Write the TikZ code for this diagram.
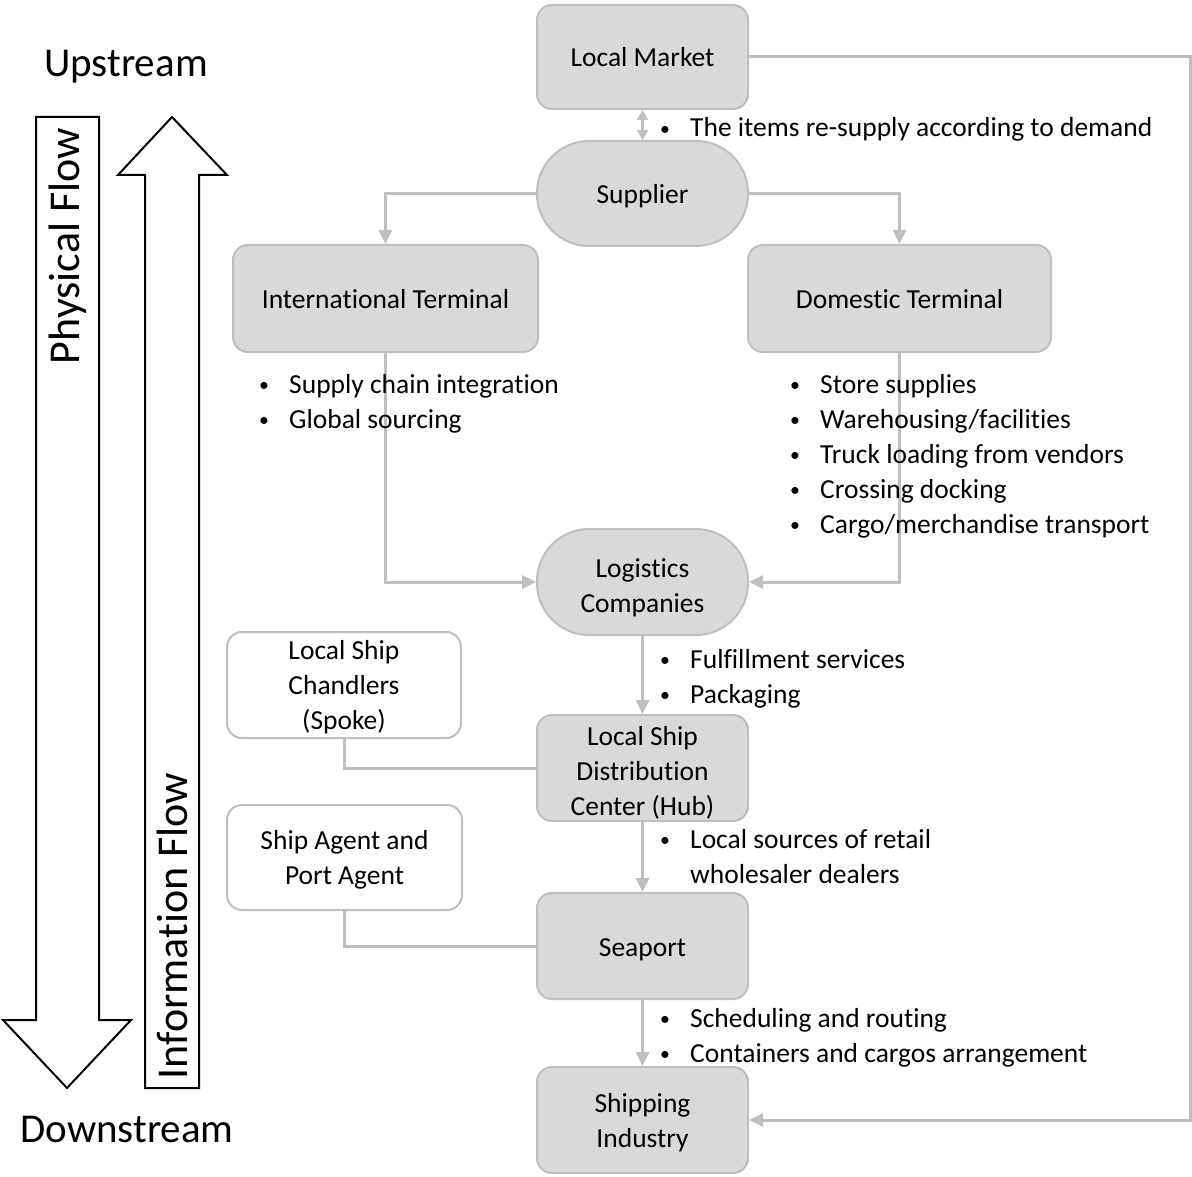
\documentclass[tikz,border=0pt]{standalone}
\usepackage{fontspec}
\setmainfont[Ligatures=NoCommon]{Carlito}
\usetikzlibrary{arrows.meta}
\definecolor{boxfill}{HTML}{D9D9D9}
\definecolor{boxline}{HTML}{BFBFBF}
\definecolor{connline}{HTML}{BFBFBF}
\newcommand{\bulitem}[1]{\makebox[31pt][l]{\hspace{1pt}\raisebox{1.6pt}{\scalebox{0.72}{\textbullet}}}#1}
% struts that fix the height of the first line and the depth of the last line
\newcommand{\Tst}[1][27.5pt]{\rule{0pt}{#1}}
\newcommand{\Bst}[1][7.5pt]{\rule[-#1]{0pt}{#1}}
\begin{document}
\begin{tikzpicture}[x=1pt,y=-1pt,
  txt/.style={font=\fontsize{27.5}{35}\selectfont},
  graybox/.style={txt, draw=boxline, line width=2pt, fill=boxfill, rounded corners=15pt,
    inner sep=0pt, align=center},
  stadium/.style={graybox, rounded corners=52pt},
  whitebox/.style={txt, draw=boxline, line width=2pt, fill=white, rounded corners=15pt,
    inner sep=0pt, align=center},
  conn/.style={draw=connline, line width=3pt, -{Triangle[width=13pt,length=14pt]}},
  link/.style={draw=connline, line width=3pt},
  bul/.style={txt, anchor=base west, inner sep=0pt},
  big/.style={font=\fontsize{41}{48}\selectfont, inner sep=0pt},
  bigrot/.style={font=\fontsize{44}{50}\selectfont, inner sep=0pt, rotate=90},
  blockarrow/.style={draw=black, line width=2pt, fill=white, line join=miter}
]
\useasboundingbox (0,0) rectangle (1192,1177);

% ---- upstream / downstream flow arrows ----
\draw[blockarrow] (36,117) -- (99,117) -- (99,1020) -- (131,1020) -- (67,1088)
  -- (3,1020) -- (36,1020) -- cycle;
\draw[blockarrow] (145,1088) -- (199,1088) -- (199,175) -- (227,175) -- (172,117)
  -- (118,175) -- (145,175) -- cycle;
\node[bigrot] (pflow) at (68,246) {Physical Flow};
\node[bigrot] (iflow) at (172,926) {Information Flow};
\node[big] (up) at (126,67) {Upstream};
\node[big] (down) at (127,1129) {Downstream};

% ---- chain nodes ----
\node[graybox, minimum width=211pt, minimum height=104pt] (lm) at (642.5,57) {\Tst Local Market\Bst};
\node[stadium, minimum width=211pt, minimum height=105pt] (sup) at (642.5,193.5) {\Tst Supplier\Bst};
\node[graybox, minimum width=305pt, minimum height=107pt] (intl) at (385.5,298.5) {\Tst International Terminal\Bst};
\node[graybox, minimum width=303pt, minimum height=107pt] (dom) at (899.5,298.5) {\Tst Domestic Terminal\Bst};
\node[stadium, minimum width=211pt, minimum height=106pt] (log) at (642.5,582) {\Tst[33pt]Logistics\\Companies\Bst};
\node[graybox, minimum width=211pt, minimum height=106pt] (hub) at (642.5,768) {\Tst[30pt]Local Ship\\Distribution\\Center (Hub)\Bst[6pt]};
\node[whitebox, minimum width=234pt, minimum height=106pt] (chand) at (344,685) {\Tst[25.5pt]Local Ship\\Chandlers\\(Spoke)\Bst};
\node[whitebox, minimum width=235pt, minimum height=105pt] (agent) at (344.5,857.5) {\Tst[25.5pt]Ship Agent and\\Port Agent\Bst};
\node[graybox, minimum width=211pt, minimum height=106pt] (sea) at (642.5,946) {\Tst Seaport\Bst};
\node[graybox, minimum width=211pt, minimum height=106pt] (ship) at (642.5,1120) {\Tst Shipping\\Industry\Bst};

% ---- connectors ----
\coordinate (rt) at (1190,57);
\draw[link, {Triangle[width=11pt,length=10pt]}-{Triangle[width=11pt,length=10pt]}] (lm.south) -- (sup.north);
\draw[conn] (sup.west) -| (intl.north);
\draw[conn] (sup.east) -| (dom.north);
\draw[conn] (intl.south) |- (log.west);
\draw[conn] (dom.south) |- (log.east);
\draw[conn] (log.south) -- (hub.north);
\draw[conn] (hub.south) -- (sea.north);
\draw[conn] (sea.south) -- (ship.north);
\draw[link] (chand.south) |- (hub.west);
\draw[link] (agent.south) |- (sea.west);
\draw[conn] (lm.east) -- (rt) |- (ship.east);

% ---- bullet notes ----
\node[bul] (n1) at (659,137) {\bulitem{The items re-supply according to demand}};
\node[bul] (i1) at (258,393) {\bulitem{Supply chain integration}};
\node[bul] (i2) at (258,428) {\bulitem{Global sourcing}};
\node[bul] (d1) at (789,393) {\bulitem{Store supplies}};
\node[bul] (d2) at (789,428) {\bulitem{Warehousing/facilities}};
\node[bul] (d3) at (789,463) {\bulitem{Truck loading from vendors}};
\node[bul] (d4) at (789,498) {\bulitem{Crossing docking}};
\node[bul] (d5) at (789,533) {\bulitem{Cargo/merchandise transport}};
\node[bul] (l1) at (659,668) {\bulitem{Fulfillment services}};
\node[bul] (l2) at (659,703) {\bulitem{Packaging}};
\node[bul] (h1) at (659,848) {\bulitem{Local sources of retail}};
\node[bul] (h2) at (659,883) {\makebox[31pt][l]{}wholesaler dealers};
\node[bul] (s1) at (659,1027) {\bulitem{Scheduling and routing}};
\node[bul] (s2) at (659,1062) {\bulitem{Containers and cargos arrangement}};
\end{tikzpicture}
\end{document}
